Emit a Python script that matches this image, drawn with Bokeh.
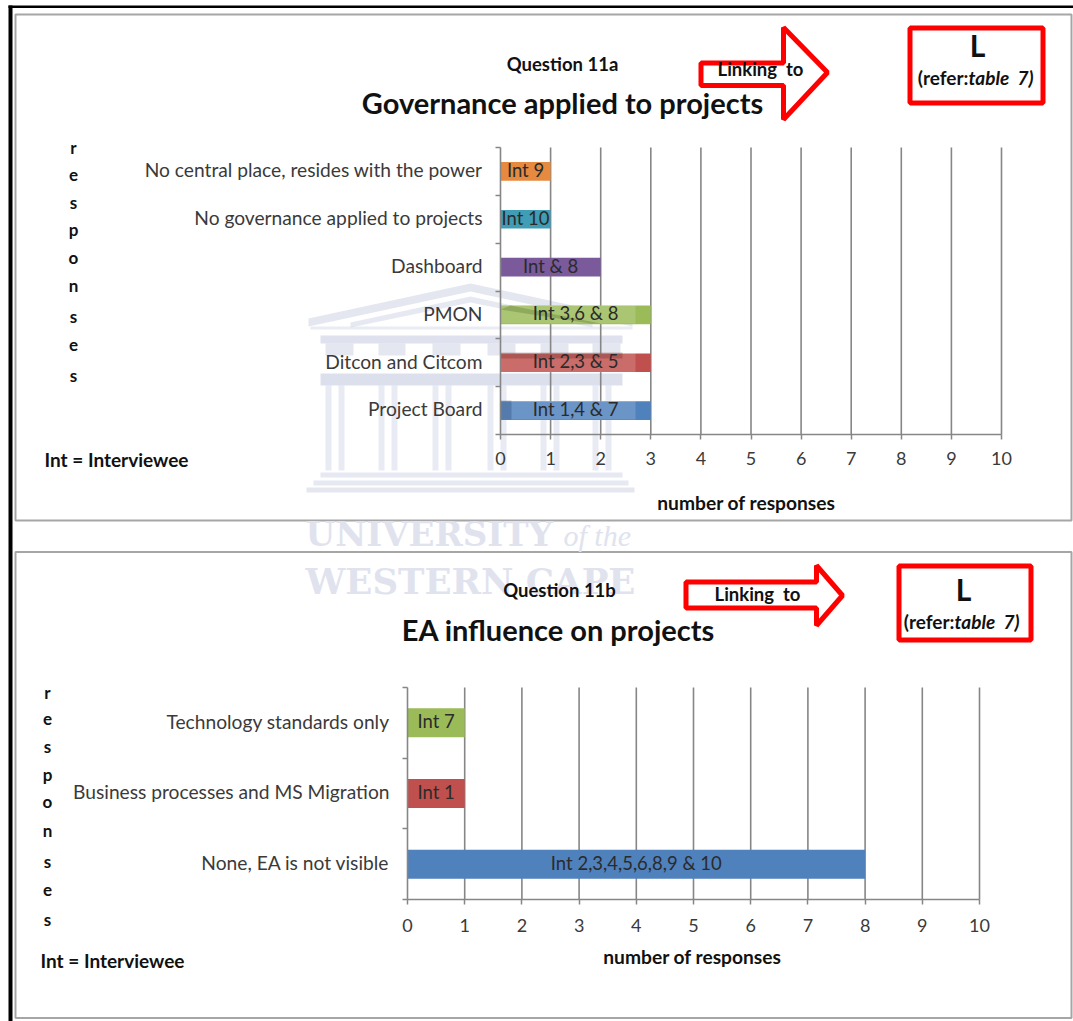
from bokeh.core.properties import value
from bokeh.embed import file_html
from bokeh.models import ColumnDataSource, FixedTicker, Label, LinearAxis, PolyAnnotation, Range1d
from bokeh.plotting import figure
from bokeh.resources import INLINE

# Question 11a: responses listed bottom to top
gov_categories = ["Project Board", "Ditcon and Citcom", "PMON", "Dashboard",
                  "No governance applied to projects", "No central place, resides with the power"]
gov_counts = [3, 3, 3, 2, 1, 1]
gov_labels = ["Int 1,4 & 7", "Int 2,3 & 5", "Int 3,6 & 8", "Int & 8", "Int 10", "Int 9"]
gov_colors = ["#4f81bd", "#c0504d", "#9bbb59", "#7a5a9a", "#3f9db5", "#e58a3f"]

# Question 11b
ea_categories = ["None, EA is not visible", "Business processes and MS Migration", "Technology standards only"]
ea_counts = [8, 1, 1]
ea_labels = ["Int 2,3,4,5,6,8,9 & 10", "Int 1", "Int 7"]
ea_colors = ["#4f81bd", "#c0504d", "#9bbb59"]

x_ticks = list(range(11))
WIDTH = 1073
HEIGHT = 1021
FONT = "Lato"
GREY = "#868686"
TEXT = "#3a3a3a"
RED = "#ff0000"
WM = "#c9cfe2"
WM_TEXT = "#e0e3ee"
NB = "\u00a0\u00a0"

# the page itself is the base coordinate system, y running downwards
p = figure(width=WIDTH, height=HEIGHT, output_backend="svg", toolbar_location=None,
           x_range=Range1d(0, WIDTH), y_range=Range1d(HEIGHT, 0),
           x_axis_location=None, y_axis_location=None,
           min_border=0, outline_line_color=None,
           background_fill_color="white", border_fill_color="white")
p.xgrid.visible = False
p.ygrid.visible = False


def label(x, y, text, size, weight="normal", align="center", color="#111111", font=FONT):
    p.add_layout(Label(x=x, y=y - 1.5, text=text, text_font=font, text_font_size=f"{size}px",
                       text_font_style=weight, text_align=align, text_baseline="middle",
                       text_color=color))


def poly(xs, ys, line, lw):
    p.add_layout(PolyAnnotation(xs=list(xs), ys=list(ys), fill_alpha=0,
                                line_color=line, line_width=lw, line_alpha=1))


def shape(xs, ys, fill, alpha=1.0):
    p.patch(x=list(xs), y=list(ys), fill_color=fill, fill_alpha=alpha, line_color=None)


def rect(x0, y_top, x1, y_bot, fill, alpha=1.0):
    shape([x0, x1, x1, x0], [y_top, y_top, y_bot, y_bot], fill, alpha)


def crest():
    """University crest, behind the upper chart."""
    shape([308, 470, 632, 632, 470, 308], [318, 283, 318, 326, 291, 326], WM, 0.5)
    shape([350, 470, 592, 592, 470, 350], [322, 296, 322, 327, 302, 327], WM, 0.45)
    rect(310, 326, 632, 329, WM, 0.4)
    rect(320, 335, 622, 343, WM, 0.6)
    for xa, xb in [(325, 353), (378, 405), (432, 460), (487, 515), (540, 568), (592, 620)]:
        rect(xa, 343, xb, 355, WM, 0.5)
    rect(320, 373, 622, 385, WM, 0.65)
    for xa in (325, 378, 432, 487, 540, 592):
        for dx in (0, 13):
            rect(xa + dx, 385, xa + dx + 6, 470, WM, 0.42)
    rect(320, 472, 622, 477, WM, 0.45)
    rect(313, 480, 628, 485, WM, 0.45)
    rect(306, 487, 634, 492, WM, 0.5)


def crest_on_bars():
    """Where the crest crosses the bars it washes them out and leaves darker bands."""
    rect(500, 305, 635, 323, "white", 0.16)
    rect(500, 352, 635, 372, "white", 0.16)
    rect(500, 400, 635, 419, "white", 0.16)
    shape([500, 510, 600, 590], [309, 305, 323, 323], "#2f4a10", 0.22)
    rect(500, 352, 622, 358, "#4a0f0f", 0.22)
    rect(500, 400, 511, 419, "#10305a", 0.25)


def bar_panel(name, left, right, top, bottom, categories, counts, labels, colors, band, tick_gap,
              after_bars=None):
    """One horizontal bar chart, with its own scales laid over part of the page."""
    n = len(categories)
    dx = (right - left) / 10
    dy = (bottom - top) / n
    xr, yr = f"{name}_x", f"{name}_y"
    p.extra_x_ranges[xr] = Range1d(-left / dx, (WIDTH - left) / dx)
    p.extra_y_ranges[yr] = Range1d((bottom - HEIGHT) / dy, bottom / dy)
    opts = dict(x_range_name=xr, y_range_name=yr)

    p.segment(x0=x_ticks[1:], x1=x_ticks[1:], y0=0, y1=n, line_color=GREY, line_width=1.6, **opts)

    pos = [i + 0.5 for i in range(n)]
    src = ColumnDataSource(dict(y=pos, right=counts, mid=[c / 2 for c in counts],
                                label=labels, color=colors))
    p.hbar(y="y", left=0, right="right", height=band, fill_color="color", line_color=None, source=src, **opts)
    if after_bars:
        after_bars()
    p.text(x="mid", y="y", text="label", source=src, text_align="center", text_baseline="middle",
           y_offset=-1.5, text_font=value(FONT), text_font_size="18.5px", text_color="#2b2b2b", **opts)

    # category names sit a touch above the middle of their band
    label_pos = [v + 1.7 / dy for v in pos]
    xax = LinearAxis(ticker=FixedTicker(ticks=x_ticks), fixed_location=0, bounds=(0, 10),
                     major_tick_in=0, major_tick_out=5, minor_tick_out=0,
                     major_label_standoff=tick_gap, **opts)
    yax = LinearAxis(ticker=FixedTicker(ticks=label_pos, minor_ticks=list(range(n + 1))),
                     fixed_location=0, bounds=(0, n),
                     major_label_overrides={v: c for v, c in zip(label_pos, categories)},
                     major_tick_in=0, major_tick_out=0, minor_tick_in=0, minor_tick_out=5,
                     major_label_standoff=13, **opts)
    for ax in (xax, yax):
        ax.axis_line_color = GREY
        ax.axis_line_width = 1.6
        ax.major_tick_line_color = GREY
        ax.minor_tick_line_color = GREY
        ax.minor_tick_line_width = 1.5
        ax.major_tick_line_width = 1.5
        ax.major_label_text_font = FONT
        ax.major_label_text_font_size = "18px"
        ax.major_label_text_color = TEXT
    yax.major_label_text_font_size = "19.2px"
    p.add_layout(xax, "below")
    p.add_layout(yax, "left")


def stacked_word(x, word, rows):
    for ch, y in zip(word, rows):
        label(x, y, ch, 17, "bold")


def arrow(xl, xh, xt, y_top, y_s0, y_mid, y_s1, y_bot):
    poly([xl, xh, xh, xt, xh, xh, xl], [y_s0, y_s0, y_top, y_mid, y_bot, y_s1, y_s1], RED, 5)


def box(x0, y_top, x1, y_bot, color, lw):
    poly([x0, x1, x1, x0], [y_top, y_top, y_bot, y_bot], color, lw)


crest()
bar_panel("gov", 500, 1001, 147, 434, gov_categories, gov_counts, gov_labels, gov_colors, 0.39, 12,
          after_bars=crest_on_bars)
bar_panel("ea", 407, 979, 687, 899, ea_categories, ea_counts, ea_labels, ea_colors, 0.41, 14)

# page frame and panel borders
rect(8, 5, 12, HEIGHT, "black")
rect(8, 5, WIDTH, 7.5, "black")
box(15, 14, 1071, 520, "#a6a6a6", 2)
box(15, 551.5, 1071, 1017.5, "#a6a6a6", 2)

label(305, 534.5, "UNIVERSITY", 34, "bold", "left", WM_TEXT, "DejaVu Serif")
label(563, 536.5, "of the", 30, "italic", "left", WM_TEXT, "Liberation Serif")
label(305, 582.5, "WESTERN CAPE", 35.5, "bold", "left", WM_TEXT, "DejaVu Serif")

# upper panel texts
label(562, 65, "Question 11a", 18.5, "bold")
label(562, 103, "Governance applied to projects", 29, "bold")
arrow(700.5, 783, 827, 27, 62.5, 72, 85, 119)
label(760, 70, f"Linking{NB}to", 18.5, "bold")
box(909.5, 27.5, 1042.5, 102.5, RED, 5)
label(977, 46, "L", 30, "bold")
label(968, 78, "(refer:", 19, "bold", "right")
label(968, 78, f"table{NB}7)", 19, "bold italic", "left")
label(44, 460, "Int = Interviewee", 19, "bold", "left")
label(746, 503, "number of responses", 19.2, "bold")
stacked_word(73, "responses", [148, 176, 203, 230, 258, 286, 317, 346, 376])

# lower panel texts
label(559, 591, "Question 11b", 18.5, "bold")
label(558, 630, "EA influence on projects", 29, "bold")
arrow(685.5, 816, 842, 565, 581.5, 595, 607.5, 625)
label(757, 595, f"Linking{NB}to", 18.5, "bold")
box(898.5, 565.5, 1030.5, 639.5, RED, 5)
label(963, 590, "L", 30, "bold")
label(954, 622, "(refer:", 19, "bold", "right")
label(954, 622, f"table{NB}7)", 19, "bold italic", "left")
label(40, 961, "Int = Interviewee", 19, "bold", "left")
label(692, 957, "number of responses", 19.2, "bold")
stacked_word(47, "responses", [693, 720, 747, 775, 802, 831, 862, 891, 920])

open("out.html", "w").write(file_html(p, INLINE))
